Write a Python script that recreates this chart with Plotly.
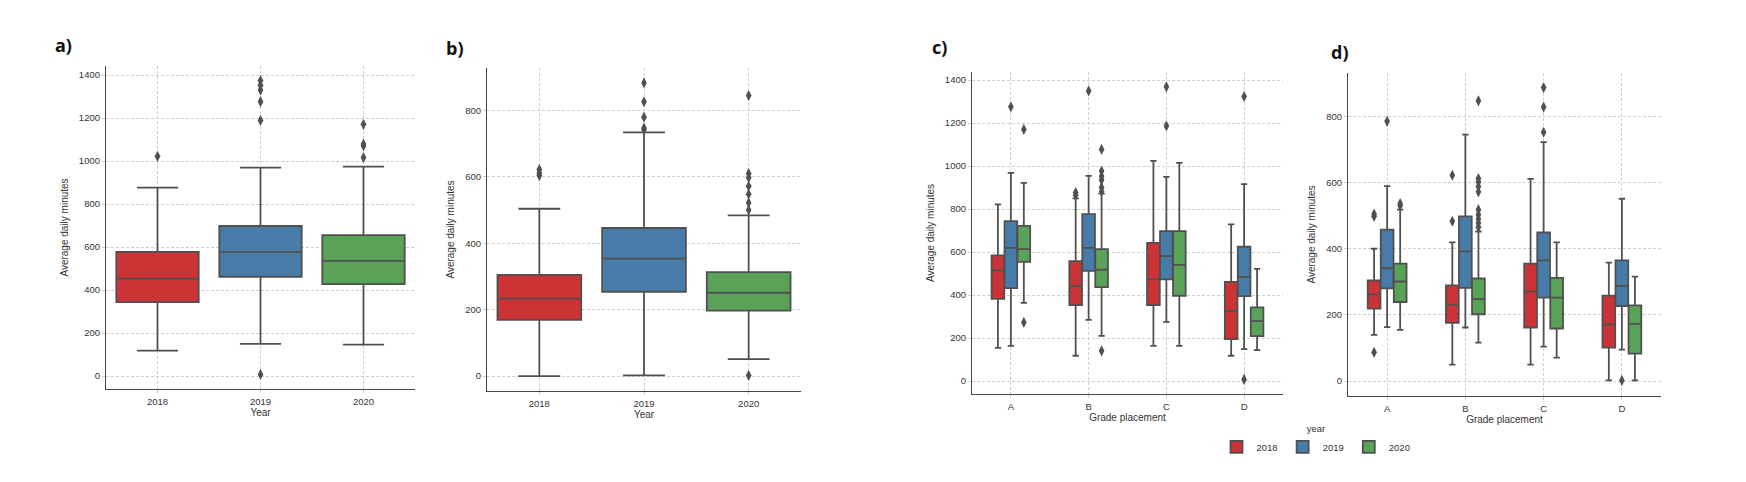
import plotly.graph_objects as go

# categorias
years = ['2018', '2019', '2020']
grades = ['A', 'B', 'C', 'D']
colores = ['#cb3335', '#477ca8', '#59a257']
gris = '#505050'

# a) minutos diarios por año
a_q1 = [344, 462, 428]
a_med = [453, 578, 536]
a_q3 = [578, 698, 656]
a_lo = [118, 150, 146]
a_hi = [876, 969, 974]
a_out = [[1022], [1374, 1352, 1330, 1276, 1189, 8], [1171, 1079, 1070, 1016]]

# b) minutos diarios por año (segunda medida)
b_q1 = [169, 254, 197]
b_med = [233, 354, 251]
b_q3 = [305, 446, 313]
b_lo = [0, 2, 51]
b_hi = [504, 734, 484]
b_out = [[622, 612, 604], [883, 826, 780, 747, 742], [845, 610, 598, 572, 548, 522, 500, 2]]

# c) por grado (filas = años, columnas = A-D)
c_q1 = [[383, 353, 353, 195], [433, 513, 473, 395], [555, 437, 397, 209]]
c_med = [[515, 443, 473, 327], [620, 620, 581, 485], [614, 518, 541, 279]]
c_q3 = [[585, 558, 643, 462], [744, 777, 698, 625], [722, 614, 698, 343]]
c_lo = [[155, 118, 164, 118], [164, 285, 276, 149], [364, 210, 164, 144]]
c_hi = [[822, 850, 1025, 729], [969, 955, 950, 916], [922, 872, 1015, 522]]
c_out = [
    [[], [877, 865], [], []],
    [[1276], [1350], [1369, 1187], [1324, 8]],
    [[1171, 273], [1078, 977, 953, 935, 901, 882, 141], [], []],
]

# d) por grado (segunda medida)
d_q1 = [[219, 176, 162, 101], [280, 282, 252, 227], [239, 202, 159, 83]]
d_med = [[262, 231, 271, 171], [341, 392, 365, 288], [301, 248, 252, 173]]
d_q3 = [[304, 289, 355, 258], [458, 498, 449, 365], [355, 310, 312, 229]]
d_lo = [[140, 50, 50, 2], [163, 162, 104, 95], [155, 116, 71, 2]]
d_hi = [[400, 419, 611, 358], [589, 745, 722, 551], [518, 452, 419, 316]]
d_out = [
    [[505, 498, 87], [622, 483], [], []],
    [[785], [], [887, 828, 752], [2]],
    [[536, 530], [847, 612, 602, 588, 572, 518, 503, 490, 478, 465], [], []],
]

# el body de la página deja 8px de margen: se compensa
OFF = 8
W, H = 1746 - OFF, 482 - OFF


def add_caja(fig, xa, ya, pos, q1, med, q3, lo, hi, out, color, ancho, nombre, leyenda):
    fig.add_trace(go.Box(x=pos, q1=q1, median=med, q3=q3, lowerfence=lo, upperfence=hi,
                         width=ancho, whiskerwidth=0.5, fillcolor=color,
                         line=dict(color=gris, width=1.8), name=nombre,
                         legendgroup=nombre, showlegend=leyenda,
                         xaxis=xa, yaxis=ya, hoverinfo='skip'))
    xs, ys = [], []
    for p, vals in zip(pos, out):
        xs += [p] * len(vals)
        ys += vals
    fig.add_trace(go.Scatter(x=xs, y=ys, mode='markers', xaxis=xa, yaxis=ya,
                             marker=dict(symbol='diamond-tall', size=8, color=gris),
                             showlegend=False, hoverinfo='skip'))


fig = go.Figure()

# paneles por año
for i, y in enumerate(years):
    add_caja(fig, 'x', 'y', [i], [a_q1[i]], [a_med[i]], [a_q3[i]], [a_lo[i]], [a_hi[i]],
             [a_out[i]], colores[i], 0.8, y, False)
    add_caja(fig, 'x2', 'y2', [i], [b_q1[i]], [b_med[i]], [b_q3[i]], [b_lo[i]], [b_hi[i]],
             [b_out[i]], colores[i], 0.8, y, False)

# paneles por grado, cajas desplazadas por año
desp = [-1 / 6, 0, 1 / 6]
for i, y in enumerate(years):
    pos = [g + desp[i] for g in range(len(grades))]
    add_caja(fig, 'x3', 'y3', pos, c_q1[i], c_med[i], c_q3[i], c_lo[i], c_hi[i],
             c_out[i], colores[i], 0.163, y, True)
    add_caja(fig, 'x4', 'y4', pos, d_q1[i], d_med[i], d_q3[i], d_lo[i], d_hi[i],
             d_out[i], colores[i], 0.163, y, False)


def fx(px):
    return (px - OFF) / W


def fy(py):
    return 1 - (py - OFF) / H


fuente_ticks = dict(family='Liberation Sans, Arial, sans-serif', size=9.5, color='#333333')
fuente_tit = dict(family='Liberation Sans, Arial, sans-serif', size=10, color='#333333')

comun_x = dict(showline=True, linecolor='#444444', linewidth=1.2, showgrid=True,
               gridcolor='#cfcfcf', griddash='3px,2px', gridwidth=0.8, zeroline=False,
               ticks='outside', ticklen=3, tickcolor='#cfcfcf', tickfont=fuente_ticks,
               title_font=fuente_tit, title_standoff=3)
comun_y = dict(comun_x, title_text='Average daily minutes', title_standoff=8)

paneles = [
    ('', (106, 415), (66, 389), [-60, 1442], years, 'Year', [0, 200, 400, 600, 800, 1000, 1200, 1400]),
    ('2', (487, 801), (68, 391), [-45, 928], years, 'Year', [0, 200, 400, 600, 800]),
    ('3', (972, 1283), (72, 394), [-60, 1438], grades, 'Grade placement', [0, 200, 400, 600, 800, 1000, 1200, 1400]),
    ('4', (1348, 1661), (73, 396), [-45, 931], grades, 'Grade placement', [0, 200, 400, 600, 800]),
]

lay = {}
for k, dx, dy, ry, cats, xt, yt in paneles:
    lay['xaxis' + k] = dict(comun_x, domain=[fx(dx[0]), fx(dx[1])], anchor='y' + k,
                            range=[-0.5, len(cats) - 0.5], tickvals=list(range(len(cats))),
                            ticktext=cats, title_text=xt)
    lay['yaxis' + k] = dict(comun_y, domain=[fy(dy[1]), fy(dy[0])], anchor='x' + k,
                            range=ry, tickvals=yt)

fig.update_layout(**lay)

# etiquetas de panel
for txt, x, y in [('a)', 63, 45), ('b)', 455, 48), ('c)', 940, 47), ('d)', 1340, 52)]:
    fig.add_annotation(text=txt, x=fx(x), y=fy(y), xref='paper', yref='paper',
                       showarrow=False, xanchor='center', yanchor='middle',
                       font=dict(family='Open Sans, sans-serif', size=18, color='#111111', weight='bold'))

fig.update_layout(
    width=W, height=H, margin=dict(l=0, r=0, t=0, b=0),
    paper_bgcolor='white', plot_bgcolor='white', boxmode='overlay',
    legend=dict(orientation='h', x=fx(1316), xanchor='center', y=fy(420), yanchor='top',
                title=dict(text='year', side='top center', font=fuente_ticks),
                font=fuente_ticks, itemwidth=30, tracegroupgap=0, bgcolor='rgba(0,0,0,0)'),
)

fig.write_html("out.html")
